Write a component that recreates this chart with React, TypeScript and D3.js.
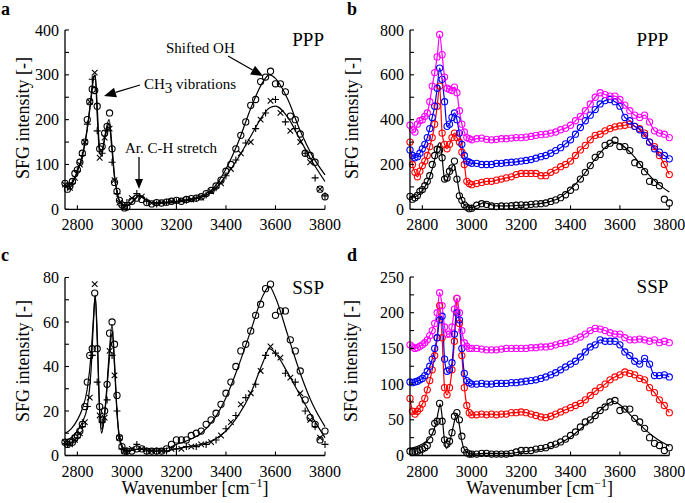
import React from 'react';
import * as d3 from 'd3';

const FONT = "'Liberation Serif','Times New Roman',Times,serif";

// wavenumber grid of the measured points
const WN = [2750,2760,2770,2780,2790,2800,2810,2820,2830,2840,2850,2860,2870,2880,2890,2900,2910,2920,2930,2940,2950,2960,2970,2980,2990,3000,
  3020,3040,3060,3080,3100,3120,3140,3160,3180,3200,3220,3240,3260,3280,3300,3320,3340,3360,3380,3400,3420,3440,3460,3480,3500,3520,3540,3560,3580,3600,3620,3640,3660,3680,3700,3720,3740,3760,3780,3800];

// panel a (PPP) circles and crosses
const A_CIRCLES = [58,45,52,62,80,88,105,125,150,200,240,268,265,230,135,140,170,185,215,135,60,40,20,10,3,5,
  18,25,22,15,12,15,14,16,18,20,18,22,24,25,28,35,42,52,65,85,100,135,165,195,232,245,285,295,308,280,280,262,208,200,168,125,120,105,45,28];
const A_CROSSES = [55,50,48,58,70,85,100,120,150,190,240,290,305,175,115,125,160,175,180,105,65,35,15,8,5,15,
  25,35,28,18,14,12,15,16,18,17,20,20,22,24,26,32,40,48,58,75,90,110,125,148,150,180,200,215,242,245,215,195,175,180,150,125,105,70,45,30];

// panel b (PPP) coloured series (black = A_CIRCLES)
const B_RED = [300,200,165,145,170,195,215,240,280,320,380,460,550,340,290,270,290,320,340,320,300,255,200,125,115,110,
  115,120,125,125,130,135,140,145,155,160,160,160,160,150,150,165,175,190,200,215,240,265,285,310,330,335,350,360,368,372,375,380,370,360,340,300,280,240,200,155];
const B_BLUE = [265,240,230,235,250,270,290,320,360,410,460,540,630,580,480,370,380,410,430,400,340,290,240,215,210,205,
  205,200,200,200,205,205,208,210,212,215,218,222,228,235,240,250,262,275,292,310,335,365,395,420,445,470,485,490,480,460,410,395,370,355,330,300,270,255,240,225];
const B_MAGENTA = [375,355,345,380,395,400,415,430,480,550,610,680,780,690,590,540,535,530,545,520,440,380,345,320,315,310,
  315,318,312,310,312,315,315,318,320,320,322,325,330,333,335,340,345,355,362,375,395,415,440,470,500,520,512,505,505,490,465,440,420,410,420,390,350,340,335,320];

// panel c (SSP) circles and crosses
const C_CIRCLES = [6,5,6,6,8,9,11,14,22,33,45,48,73,48,22,16,20,32,55,60,50,27,8,4,2,2,
  2,3,3,2,2,2,2,3,5,7,7,7,9,10,11,14,16,19,23,28,33,40,47,50,56,63,68,75,77,63,65,65,52,47,38,25,17,14,7,11];
const C_CROSSES = [6,5,5,6,7,8,10,13,15,22,26,45,77,33,18,15,17,25,47,45,36,20,8,3,2,2,
  3,5,3,2,2,2,2,2,3,3,3,4,4,4,5,5,6,7,9,12,15,18,23,26,28,32,38,45,49,46,44,37,35,33,28,20,16,13,8,5];

// panel d (SSP) coloured series (black = C_CIRCLES)
const D_RED = [80,62,58,62,66,72,80,92,105,120,140,165,210,165,95,85,95,120,160,220,185,140,95,70,60,57,
  57,58,57,58,57,58,58,60,60,61,60,58,56,54,53,55,58,61,64,67,70,73,78,84,90,95,100,106,110,113,117,115,113,108,106,95,88,78,70,60];
const D_BLUE = [103,102,103,104,106,108,112,118,125,135,150,165,190,195,135,118,120,130,170,200,190,150,115,105,102,100,
  100,101,100,100,101,101,101,102,102,103,104,105,106,108,110,113,116,120,124,128,132,138,145,152,155,162,160,160,160,155,145,140,132,128,136,128,112,112,113,110];
const D_MAGENTA = [155,152,150,151,153,155,158,162,168,175,185,200,228,210,180,170,170,180,205,220,200,175,158,153,150,150,
  150,149,148,148,148,149,150,150,150,150,150,151,151,152,152,153,155,157,158,160,163,166,170,175,178,177,175,172,170,170,165,162,162,163,162,160,162,158,160,158];

// fitted curves
const FIT_WN = [2750,2775,2800,2820,2840,2855,2865,2872,2880,2890,2898,2905,2915,2928,2940,2950,2960,2975,3000,3030,3050,3075,3100,3150,3200,3250,3300,3350,3400,3450,3500,3550,3575,3600,3650,3700,3750,3800];
const A_CIRCLE_FIT = [52,58,85,120,180,245,290,298,230,135,128,145,175,200,140,75,40,15,8,20,30,22,15,15,18,22,30,48,90,150,225,285,300,292,245,175,118,77];
const A_CROSS_FIT = [50,55,85,118,180,250,295,300,210,125,120,140,170,190,130,70,38,13,8,22,32,22,15,14,16,20,27,42,75,115,163,210,226,230,205,155,105,62];
const C_CIRCLE_FIT = [10,12,16,21,30,45,62,72,55,20,10,14,25,45,59,42,20,6,2,2.5,3,3,3,3,5,7,10,16,26,40,56,72,76,71,54,37,23,13];
const C_CROSS_FIT = [7,8,11,15,22,38,60,72,52,20,12,14,24,42,55,40,19,5,2,2.5,3,2.5,2,2,3,4,5,7,11,18,28,42,48,46,37,27,17,8];

const X_TICKS = [2800, 3000, 3200, 3400, 3600, 3800];

type Series = {
  values: number[];
  color: string;
  marker: 'circle' | 'cross';
  fit?: number[];
  lineThroughData?: boolean;
};

type PanelProps = {
  left: number; right: number; top: number; bottom: number;
  yMax: number; yLabelStep: number; yTickStep: number;
  series: Series[];
  pol: string;
  xTitle: boolean;
  titleX: number; titleY: number;
};

function Arrow({ x1, y1, x2, y2, head = 11, w = 4.5 }: { x1: number; y1: number; x2: number; y2: number; head?: number; w?: number }) {
  const a = Math.atan2(y2 - y1, x2 - x1);
  const bx = x2 - head * Math.cos(a);
  const by = y2 - head * Math.sin(a);
  const px = -Math.sin(a) * w;
  const py = Math.cos(a) * w;
  return (
    <g>
      <line x1={x1} y1={y1} x2={bx} y2={by} stroke="#000" strokeWidth={1.3} />
      <polygon points={`${x2},${y2} ${bx + px},${by + py} ${bx - px},${by - py}`} fill="#000" />
    </g>
  );
}

function Panel(p: PanelProps) {
  const x = d3.scaleLinear().domain([2750, 3800]).range([p.left, p.right]);
  const y = d3.scaleLinear().domain([0, p.yMax]).range([p.bottom, p.top]);
  const yTicks = d3.range(0, p.yMax + 1e-6, p.yTickStep);
  const yLabels = d3.range(0, p.yMax + 1e-6, p.yLabelStep);
  const fitLine = d3.line<number>().x((_, i) => x(FIT_WN[i])).y(d => y(d)).curve(d3.curveMonotoneX);
  const dataLine = d3.line<number>().x((_, i) => x(WN[i])).y(d => y(d)).curve(d3.curveMonotoneX);

  return (
    <g>
      {p.series.map((s, si) => (
        <g key={si}>
          {s.fit && <path d={fitLine(s.fit) || ''} fill="none" stroke={s.color} strokeWidth={1.2} />}
          {s.lineThroughData && <path d={dataLine(s.values) || ''} fill="none" stroke={s.color} strokeWidth={1.2} />}
        </g>
      ))}
      {p.series.map((s, si) => (
        <g key={'m' + si}>
          {s.values.map((v, i) => {
            const cx = x(WN[i]);
            const cy = y(v);
            if (s.marker === 'circle') {
              return <circle key={i} cx={cx} cy={cy} r={3.1} fill="none" stroke={s.color} strokeWidth={1.1} />;
            }
            const d = i % 2 === 0
              ? `M${cx - 2.8},${cy - 2.8}L${cx + 2.8},${cy + 2.8}M${cx - 2.8},${cy + 2.8}L${cx + 2.8},${cy - 2.8}`
              : `M${cx - 3.5},${cy}L${cx + 3.5},${cy}M${cx},${cy - 3.5}L${cx},${cy + 3.5}`;
            return <path key={i} d={d} stroke={s.color} strokeWidth={1.1} fill="none" />;
          })}
        </g>
      ))}
      {/* axes */}
      <line x1={p.left} y1={p.bottom} x2={p.right} y2={p.bottom} stroke="#000" strokeWidth={1.3} />
      <line x1={p.left} y1={p.bottom} x2={p.left} y2={p.top} stroke="#000" strokeWidth={1.3} />
      {yTicks.map(t => (
        <line key={'yt' + t} x1={p.left} x2={p.left + 4} y1={y(t)} y2={y(t)} stroke="#000" strokeWidth={1.1} />
      ))}
      {yLabels.map(t => (
        <text key={'yl' + t} x={p.left - 6} y={y(t) + 5.5} textAnchor="end" fontSize={16} fontFamily={FONT}>{t}</text>
      ))}
      {X_TICKS.map(t => (
        <g key={'xt' + t}>
          <line x1={x(t)} x2={x(t)} y1={p.bottom} y2={p.bottom - 4} stroke="#000" strokeWidth={1.1} />
          <text x={x(t)} y={p.bottom + 21} textAnchor="middle" fontSize={16} fontFamily={FONT}>{t}</text>
        </g>
      ))}
      <text x={p.right - 1} y={p.top + 16} textAnchor="end" fontSize={19} fontFamily={FONT}>{p.pol}</text>
      <text transform={`translate(${p.titleX},${p.titleY}) rotate(-90)`} textAnchor="middle" fontSize={18} fontFamily={FONT}>SFG intensity [-]</text>
      {p.xTitle && (
        <text x={(p.left + p.right) / 2} y={494} textAnchor="middle" fontSize={18} fontFamily={FONT}>
          <tspan>Wavenumber [cm</tspan>
          <tspan dy={-7} fontSize={12}>−1</tspan>
          <tspan dy={7}>]</tspan>
        </text>
      )}
    </g>
  );
}

export default function App() {
  return (
    <svg width={685} height={503} style={{ position: 'absolute', left: 0, top: 0, background: '#fff' }}>
      <rect width={685} height={503} fill="#fff" />
      <Panel left={65} right={325} top={30} bottom={209.3} yMax={400} yLabelStep={100} yTickStep={50}
        pol="PPP" xTitle={false} titleX={29} titleY={118}
        series={[
          { values: A_CROSSES, color: '#000', marker: 'cross', fit: A_CROSS_FIT },
          { values: A_CIRCLES, color: '#000', marker: 'circle', fit: A_CIRCLE_FIT },
        ]} />
      <Panel left={410} right={669.3} top={30} bottom={209.3} yMax={800} yLabelStep={200} yTickStep={100}
        pol="PPP" xTitle={false} titleX={358} titleY={118}
        series={[
          { values: A_CIRCLES, color: '#000', marker: 'circle', fit: A_CIRCLE_FIT },
          { values: B_RED, color: '#ff0000', marker: 'circle', lineThroughData: true },
          { values: B_BLUE, color: '#0000ff', marker: 'circle', lineThroughData: true },
          { values: B_MAGENTA, color: '#ff00ff', marker: 'circle', lineThroughData: true },
        ]} />
      <Panel left={65} right={325} top={277.5} bottom={455.5} yMax={80} yLabelStep={20} yTickStep={10}
        pol="SSP" xTitle={true} titleX={29} titleY={361}
        series={[
          { values: C_CROSSES, color: '#000', marker: 'cross', fit: C_CROSS_FIT },
          { values: C_CIRCLES, color: '#000', marker: 'circle', fit: C_CIRCLE_FIT },
        ]} />
      <Panel left={410} right={669.3} top={277} bottom={455.5} yMax={250} yLabelStep={50} yTickStep={25}
        pol="SSP" xTitle={true} titleX={357} titleY={361}
        series={[
          { values: C_CIRCLES, color: '#000', marker: 'circle', fit: C_CIRCLE_FIT },
          { values: D_RED, color: '#ff0000', marker: 'circle', lineThroughData: true },
          { values: D_BLUE, color: '#0000ff', marker: 'circle', lineThroughData: true },
          { values: D_MAGENTA, color: '#ff00ff', marker: 'circle', lineThroughData: true },
        ]} />

      {/* annotations panel a */}
      <text x={144} y={89} fontSize={15} fontFamily={FONT}>
        <tspan>CH</tspan><tspan dy={4}>3</tspan><tspan dy={-4}> vibrations</tspan>
      </text>
      <Arrow x1={140} y1={85} x2={104} y2={96} head={12} w={5} />
      <text x={166} y={53} fontSize={15} fontFamily={FONT}>Shifted OH</text>
      <Arrow x1={228} y1={56} x2={263} y2={76} head={12} w={5} />
      <text x={125} y={153} fontSize={15} fontFamily={FONT}>Ar. C-H stretch</text>
      <Arrow x1={139} y1={157} x2={139} y2={189} head={10} w={4} />

      {/* panel letters */}
      <text x={1} y={15} fontSize={18} fontWeight="bold" fontFamily={FONT}>a</text>
      <text x={347} y={15} fontSize={18} fontWeight="bold" fontFamily={FONT}>b</text>
      <text x={1} y={261} fontSize={18} fontWeight="bold" fontFamily={FONT}>c</text>
      <text x={347} y={261} fontSize={18} fontWeight="bold" fontFamily={FONT}>d</text>
    </svg>
  );
}
